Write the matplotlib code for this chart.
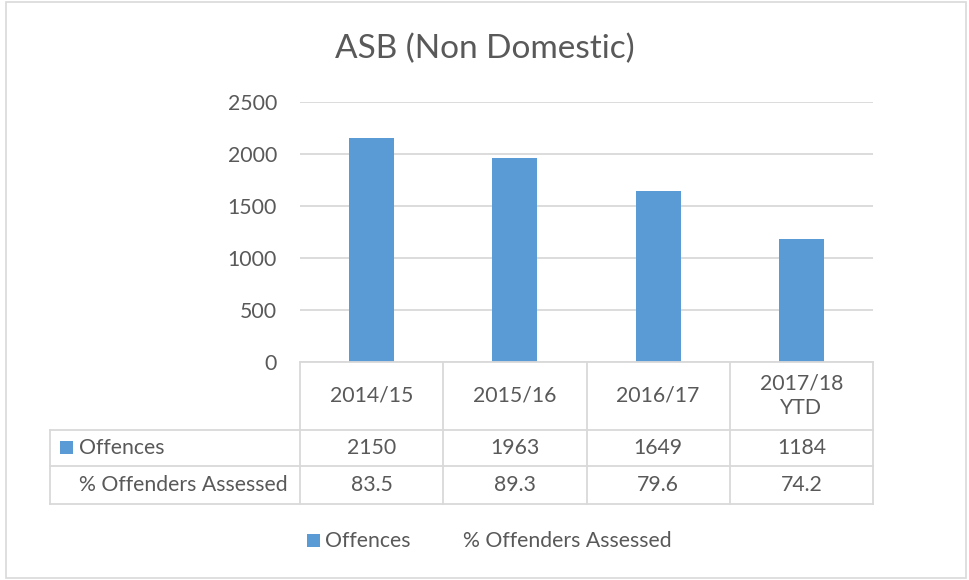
import matplotlib
matplotlib.use("Agg")
import matplotlib.pyplot as plt
from matplotlib.lines import Line2D
from matplotlib.patches import Rectangle
import matplotlib.transforms as mtransforms

plt.rcParams['font.family'] = ['Lato', 'DejaVu Sans']

title = "ASB (Non Domestic)"
categories = ["2014/15", "2015/16", "2016/17", "2017/18\nYTD"]
offences = [2150, 1963, 1649, 1184]
pct_assessed = ["83.5", "89.3", "79.6", "74.2"]
offences_label = "Offences"
pct_label = "% Offenders Assessed"
yticks = [0, 500, 1000, 1500, 2000, 2500]

W, H = 970, 580
TXT = "#595959"
GRID = "#D9D9D9"
BAR = "#5B9BD5"
FS = 15.3

fig = plt.figure(figsize=(W / 100, H / 100), dpi=100)

def fx(px):
    return px / W

def fy(py):
    return 1 - py / H

# outer border
fig.add_artist(Rectangle((fx(6), fy(578)), fx(960), 576 / H, transform=fig.transFigure,
                         fill=False, edgecolor="#D9D9D9", linewidth=1.2))

ax = fig.add_axes([fx(300), fy(362), fx(873 - 300), (362 - 102) / H])
x = list(range(len(categories)))
ax.bar(x, offences, width=0.315, color=BAR, zorder=3)
ax.set_xlim(-0.5, len(categories) - 0.5)
ax.set_ylim(0, 2500)
ax.set_yticks(yticks)
ax.set_yticklabels([str(t) for t in yticks], fontsize=FS, color=TXT)
ax.tick_params(axis='y', length=0, pad=16.5)
ax.set_xticks([])
ax.grid(axis='y', color=GRID, linewidth=1.3, zorder=0)
for s in ax.spines.values():
    s.set_visible(False)

fig.text(0.5, fy(49), title, ha='center', va='center', fontsize=24, color=TXT)

# data table
bt = mtransforms.blended_transform_factory(ax.transData, fig.transFigure)
y_top, y_r1, y_r2, y_bot = fy(362), fy(430), fy(466), fy(504)
lw = 1.3
fig.add_artist(Line2D([-0.5, len(categories) - 0.5], [y_top, y_top], transform=bt, color=GRID, lw=lw))
for yy in (y_r1, y_r2, y_bot):
    fig.add_artist(Line2D([fx(50), fx(873)], [yy, yy], transform=fig.transFigure, color=GRID, lw=lw))
for b in range(len(categories) + 1):
    xb = b - 0.5
    fig.add_artist(Line2D([xb, xb], [y_top, y_bot], transform=bt, color=GRID, lw=lw))
fig.add_artist(Line2D([fx(50), fx(50)], [y_r1, y_bot], transform=fig.transFigure, color=GRID, lw=lw))

for i, c in enumerate(categories):
    fig.text(i, (y_top + y_r1) / 2, c, transform=bt, ha='center', va='center',
             fontsize=FS, color=TXT, linespacing=1.25)
    fig.text(i, (y_r1 + y_r2) / 2, str(offences[i]), transform=bt, ha='center', va='center',
             fontsize=FS, color=TXT)
    fig.text(i, (y_r2 + y_bot) / 2, pct_assessed[i], transform=bt, ha='center', va='center',
             fontsize=FS, color=TXT)

# row headers
fig.add_artist(Rectangle((fx(60), fy(454)), fx(13), 13 / H, transform=fig.transFigure,
                         color=BAR, lw=0))
fig.text(fx(79), (y_r1 + y_r2) / 2, offences_label, ha='left', va='center', fontsize=FS, color=TXT)
fig.text(fx(79), (y_r2 + y_bot) / 2, pct_label, ha='left', va='center', fontsize=FS, color=TXT)

# legend
fig.add_artist(Rectangle((fx(307), fy(547)), fx(13), 13 / H, transform=fig.transFigure,
                         color=BAR, lw=0))
fig.text(fx(325), fy(541), offences_label, ha='left', va='center', fontsize=FS, color=TXT)
fig.text(fx(463), fy(541), pct_label, ha='left', va='center', fontsize=FS, color=TXT)

fig.savefig("out.png", dpi=100, facecolor="white")
